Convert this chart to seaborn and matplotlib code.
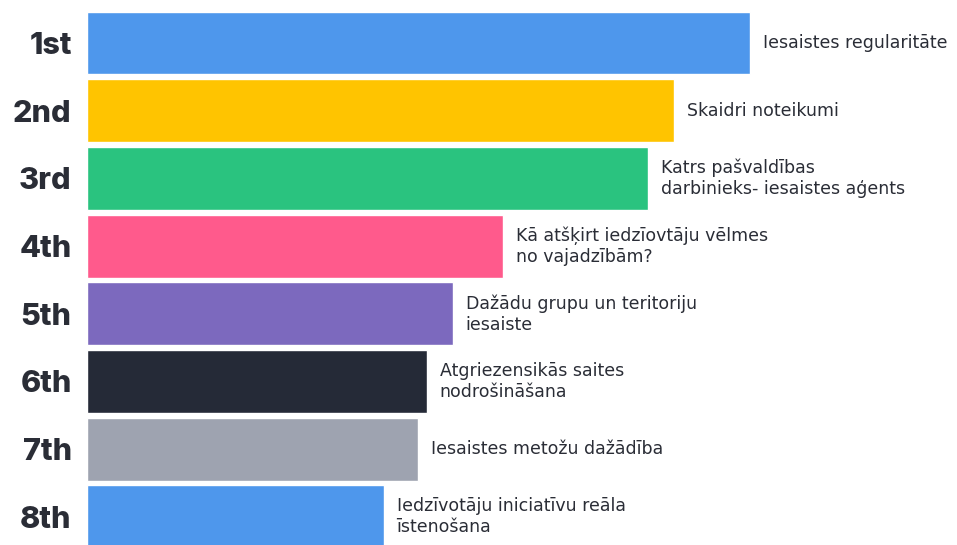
import matplotlib
matplotlib.use("Agg")
import matplotlib.pyplot as plt
import seaborn as sns
import pandas as pd

# ranking data (scores)
ranks = ["1st", "2nd", "3rd", "4th", "5th", "6th", "7th", "8th"]
answers = [
    "Iesaistes regularitāte",
    "Skaidri noteikumi",
    "Katrs pašvaldības\ndarbinieks- iesaistes aģents",
    "Kā atšķirt iedzīovtāju vēlmes\nno vajadzībām?",
    "Dažādu grupu un teritoriju\niesaiste",
    "Atgriezensikās saites\nnodrošināšana",
    "Iesaistes metožu dažādība",
    "Iedzīvotāju iniciatīvu reāla\nīstenošana",
]
scores = [6.63, 5.87, 5.61, 4.16, 3.66, 3.40, 3.31, 2.97]
colors = ["#4E97EC", "#FFC400", "#2AC37F", "#FF5A8C",
          "#7C69BE", "#252A37", "#9EA3B0", "#4E97EC"]

text_color = "#2A2D36"

def main():
    df = pd.DataFrame({"rank": ranks, "score": scores, "answer": answers})

    sns.set_theme(style="white")
    plt.rcParams["font.family"] = ["Inter", "DejaVu Sans"]

    fig = plt.figure(figsize=(9.57, 5.45), dpi=100)
    ax = fig.add_axes([87 / 957, 0, 870 / 957, 1])

    sns.barplot(data=df, y="rank", x="score", hue="rank", palette=colors,
                legend=False, width=0.93, orient="h", saturation=1, ax=ax)

    ax.set_xlim(0, 8.70)
    ax.set_ylim(7.415, -0.635)
    ax.set_xlabel("")
    ax.set_ylabel("")
    ax.set_xticks([])
    sns.despine(ax=ax, left=True, bottom=True)
    ax.tick_params(axis="y", length=0, pad=11)
    for lab in ax.get_yticklabels():
        lab.set_fontsize(22)
        lab.set_fontweight("heavy")
        lab.set_color(text_color)

    # answer labels: a wider face to get close to the original geometric font
    for i, (s, a) in enumerate(zip(scores, answers)):
        ax.annotate(a, xy=(s, i), xytext=(9, 0), textcoords="offset points",
                    ha="left", va="center", fontsize=12.5, color=text_color,
                    linespacing=1.22, family=["DejaVu Sans"])

    fig.savefig("out.png", dpi=100)

if __name__ == "__main__":
    main()
